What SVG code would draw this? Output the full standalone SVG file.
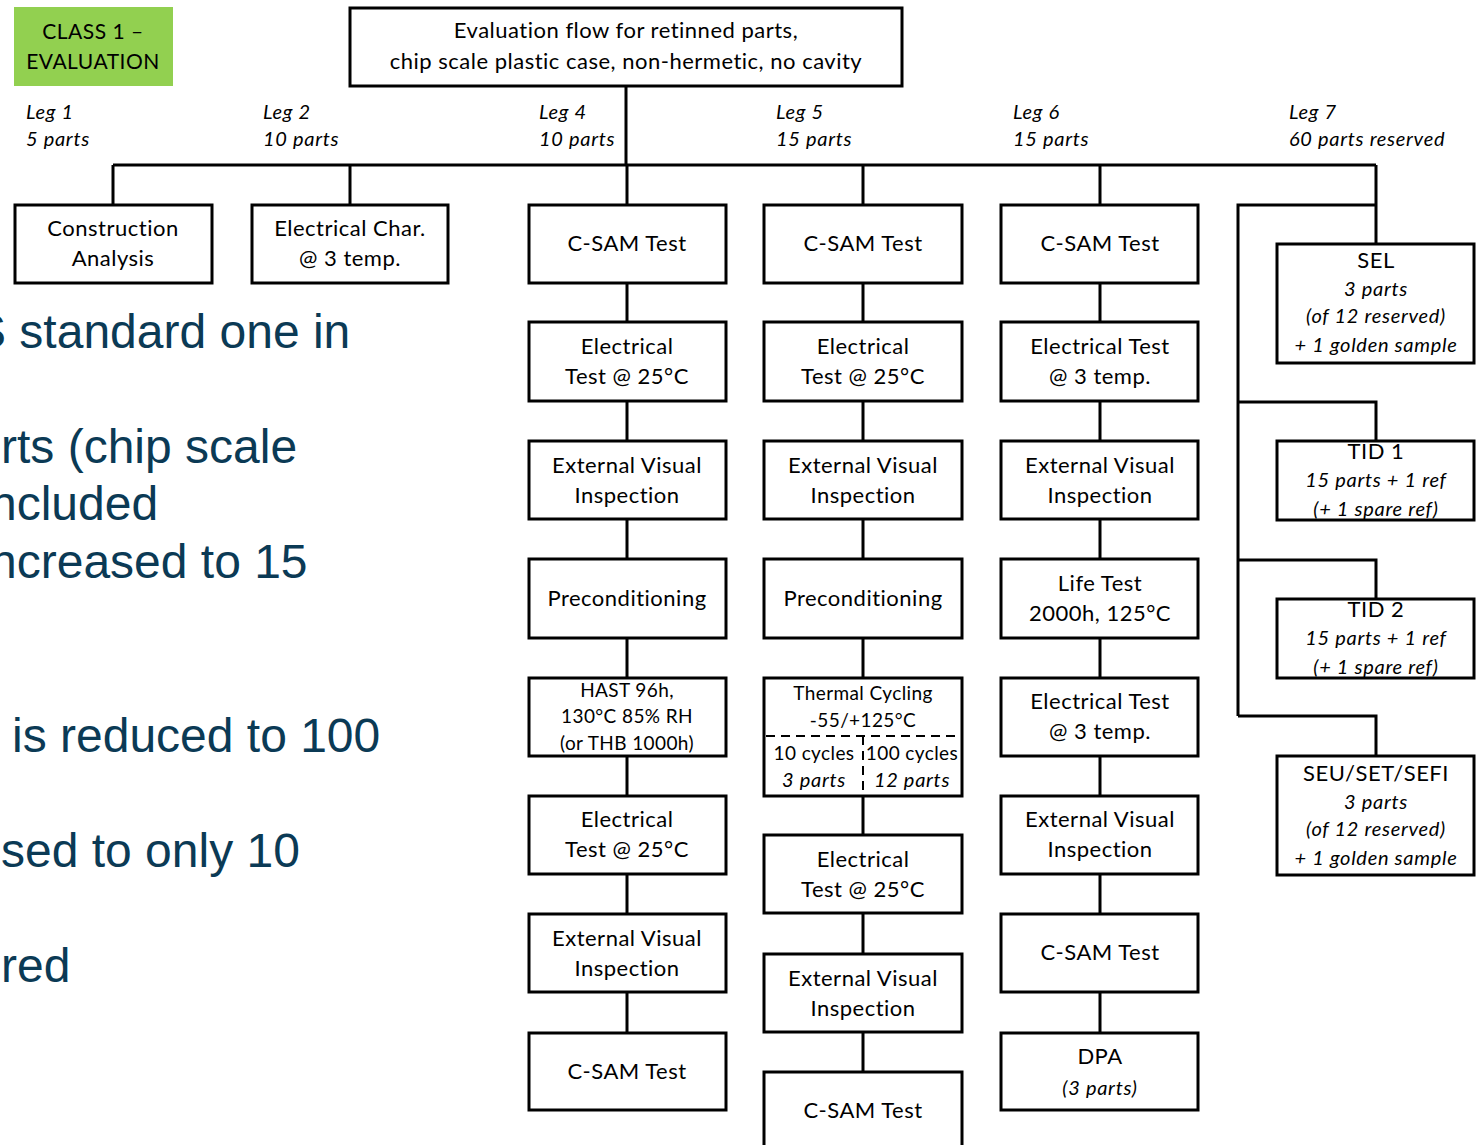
<svg xmlns="http://www.w3.org/2000/svg" width="1480" height="1145" viewBox="0 0 1480 1145">
<style>
.bx{fill:#fff;stroke:#000;stroke-width:3}
.t{font-family:Lato,"Liberation Sans",sans-serif;font-size:22px;letter-spacing:0.5px;fill:#000;text-anchor:middle}
.s{font-family:Lato,"Liberation Sans",sans-serif;font-size:19px;letter-spacing:0.4px;fill:#000;text-anchor:middle}
.i{font-family:Lato,"Liberation Sans",sans-serif;font-size:20px;letter-spacing:0.7px;font-style:italic;fill:#000;text-anchor:middle}
.leg{font-family:Lato,"Liberation Sans",sans-serif;font-size:20px;letter-spacing:0.7px;font-style:italic;fill:#000}
.bg{font-family:"Liberation Sans",Arial,sans-serif;font-size:48px;fill:#0b3a55}
.c{stroke:#000;stroke-width:3;fill:none}
.d{stroke:#000;stroke-width:2;stroke-dasharray:9 6;fill:none}
</style>
<rect width="1480" height="1145" fill="#fff"/>
<g id="bgtext">
<text class="bg" x="-26" y="348">S standard one in</text>
<text class="bg" x="1" y="463">rts (chip scale</text>
<text class="bg" x="-10" y="520">ncluded</text>
<text class="bg" x="-10" y="578">ncreased to 15</text>
<text class="bg" x="12" y="752">is reduced to 100</text>
<text class="bg" x="1" y="867">sed to only 10</text>
<text class="bg" x="1" y="982">red</text>
</g>
<g id="connectors">
<path class="c" d="M626 86V165M113 165H1376M113 165V205M350 165V205M627 165V205M863 165V205M1100 165V205M1376 165V244"/>
<path class="c" d="M627 283V322M627 401V441M627 519V559M627 638V678M627 756V796M627 874V914M627 992V1033"/>
<path class="c" d="M863 283V322M863 401V441M863 519V559M863 638V678M863 796V835M863 913V954M863 1032V1072"/>
<path class="c" d="M1100 283V322M1100 401V441M1100 519V559M1100 638V678M1100 756V796M1100 874V914M1100 992V1033"/>
<path class="c" d="M1376 205H1238V716M1238 402H1376V441M1238 560H1376V599M1238 716H1376V756"/>
</g>
<g id="class"><rect x="14" y="7" width="159" height="79" fill="#92d050"/><text class="t" x="93" y="39" style="font-size:21px">CLASS 1 –</text><text class="t" x="93" y="69" style="font-size:21px">EVALUATION</text></g>
<g id="title"><rect class="bx" x="350" y="8" width="552" height="78"/><text class="t" x="626" y="38">Evaluation flow for retinned parts,</text><text class="t" x="626" y="69">chip scale plastic case, non-hermetic, no cavity</text></g>
<g id="legs">
<text class="leg" x="26" y="119">Leg 1</text><text class="leg" x="26" y="146">5 parts</text>
<text class="leg" x="263" y="119">Leg 2</text><text class="leg" x="263" y="146">10 parts</text>
<text class="leg" x="539" y="119">Leg 4</text><text class="leg" x="539" y="146">10 parts</text>
<text class="leg" x="776" y="119">Leg 5</text><text class="leg" x="776" y="146">15 parts</text>
<text class="leg" x="1013" y="119">Leg 6</text><text class="leg" x="1013" y="146">15 parts</text>
<text class="leg" x="1289" y="119">Leg 7</text><text class="leg" x="1289" y="146">60 parts reserved</text>
</g>
<g id="l1"><rect class="bx" x="15" y="205" width="197" height="78"/><text class="t" x="113" y="236">Construction</text><text class="t" x="113" y="266">Analysis</text></g>
<g id="l2"><rect class="bx" x="252" y="205" width="196" height="78"/><text class="t" x="350" y="236">Electrical Char.</text><text class="t" x="350" y="266">@ 3 temp.</text></g>
<g id="l4a"><rect class="bx" x="529" y="205" width="197" height="78"/><text class="t" x="627" y="251">C-SAM Test</text></g>
<g id="l4b"><rect class="bx" x="529" y="322" width="197" height="79"/><text class="t" x="627" y="354">Electrical</text><text class="t" x="627" y="384">Test @ 25°C</text></g>
<g id="l4c"><rect class="bx" x="529" y="441" width="197" height="78"/><text class="t" x="627" y="473">External Visual</text><text class="t" x="627" y="503">Inspection</text></g>
<g id="l4d"><rect class="bx" x="529" y="559" width="197" height="79"/><text class="t" x="627" y="606">Preconditioning</text></g>
<g id="l4e"><rect class="bx" x="529" y="678" width="197" height="78"/><text class="s" x="627" y="697">HAST 96h,</text><text class="s" x="627" y="723">130°C 85% RH</text><text class="s" x="627" y="750">(or THB 1000h)</text></g>
<g id="l4f"><rect class="bx" x="529" y="796" width="197" height="78"/><text class="t" x="627" y="827">Electrical</text><text class="t" x="627" y="857">Test @ 25°C</text></g>
<g id="l4g"><rect class="bx" x="529" y="914" width="197" height="78"/><text class="t" x="627" y="946">External Visual</text><text class="t" x="627" y="976">Inspection</text></g>
<g id="l4h"><rect class="bx" x="529" y="1033" width="197" height="77"/><text class="t" x="627" y="1079">C-SAM Test</text></g>
<g id="l5a"><rect class="bx" x="764" y="205" width="198" height="78"/><text class="t" x="863" y="251">C-SAM Test</text></g>
<g id="l5b"><rect class="bx" x="764" y="322" width="198" height="79"/><text class="t" x="863" y="354">Electrical</text><text class="t" x="863" y="384">Test @ 25°C</text></g>
<g id="l5c"><rect class="bx" x="764" y="441" width="198" height="78"/><text class="t" x="863" y="473">External Visual</text><text class="t" x="863" y="503">Inspection</text></g>
<g id="l5d"><rect class="bx" x="764" y="559" width="198" height="79"/><text class="t" x="863" y="606">Preconditioning</text></g>
<g id="l5e"><rect class="bx" x="764" y="678" width="198" height="118"/><text class="s" x="863" y="700">Thermal Cycling</text><text class="s" x="863" y="727">-55/+125°C</text><path class="d" d="M766 736H960M863 736V794"/><text class="s" x="814" y="760">10 cycles</text><text class="i" x="814" y="787">3 parts</text><text class="s" x="912" y="760">100 cycles</text><text class="i" x="912" y="787">12 parts</text></g>
<g id="l5f"><rect class="bx" x="764" y="835" width="198" height="78"/><text class="t" x="863" y="867">Electrical</text><text class="t" x="863" y="897">Test @ 25°C</text></g>
<g id="l5g"><rect class="bx" x="764" y="954" width="198" height="78"/><text class="t" x="863" y="986">External Visual</text><text class="t" x="863" y="1016">Inspection</text></g>
<g id="l5h"><rect class="bx" x="764" y="1072" width="198" height="90"/><text class="t" x="863" y="1118">C-SAM Test</text></g>
<g id="l6a"><rect class="bx" x="1001" y="205" width="197" height="78"/><text class="t" x="1100" y="251">C-SAM Test</text></g>
<g id="l6b"><rect class="bx" x="1001" y="322" width="197" height="79"/><text class="t" x="1100" y="354">Electrical Test</text><text class="t" x="1100" y="384">@ 3 temp.</text></g>
<g id="l6c"><rect class="bx" x="1001" y="441" width="197" height="78"/><text class="t" x="1100" y="473">External Visual</text><text class="t" x="1100" y="503">Inspection</text></g>
<g id="l6d"><rect class="bx" x="1001" y="559" width="197" height="79"/><text class="t" x="1100" y="591">Life Test</text><text class="t" x="1100" y="621">2000h, 125°C</text></g>
<g id="l6e"><rect class="bx" x="1001" y="678" width="197" height="78"/><text class="t" x="1100" y="709">Electrical Test</text><text class="t" x="1100" y="739">@ 3 temp.</text></g>
<g id="l6f"><rect class="bx" x="1001" y="796" width="197" height="78"/><text class="t" x="1100" y="827">External Visual</text><text class="t" x="1100" y="857">Inspection</text></g>
<g id="l6g"><rect class="bx" x="1001" y="914" width="197" height="78"/><text class="t" x="1100" y="960">C-SAM Test</text></g>
<g id="l6h"><rect class="bx" x="1001" y="1033" width="197" height="77"/><text class="t" x="1100" y="1064">DPA</text><text class="i" x="1100" y="1095">(3 parts)</text></g>
<g id="sel"><rect class="bx" x="1277" y="244" width="197" height="119"/><text class="t" x="1376" y="268">SEL</text><text class="i" x="1376" y="296">3 parts</text><text class="i" x="1376" y="323">(of 12 reserved)</text><text class="i" x="1376" y="352">+ 1 golden sample</text></g>
<g id="tid1"><rect class="bx" x="1277" y="441" width="197" height="79"/><text class="t" x="1376" y="459">TID 1</text><text class="i" x="1376" y="487">15 parts + 1 ref</text><text class="i" x="1376" y="516">(+ 1 spare ref)</text></g>
<g id="tid2"><rect class="bx" x="1277" y="599" width="197" height="79"/><text class="t" x="1376" y="617">TID 2</text><text class="i" x="1376" y="645">15 parts + 1 ref</text><text class="i" x="1376" y="674">(+ 1 spare ref)</text></g>
<g id="seu"><rect class="bx" x="1277" y="756" width="197" height="119"/><text class="t" x="1376" y="781">SEU/SET/SEFI</text><text class="i" x="1376" y="809">3 parts</text><text class="i" x="1376" y="836">(of 12 reserved)</text><text class="i" x="1376" y="865">+ 1 golden sample</text></g>
</svg>
